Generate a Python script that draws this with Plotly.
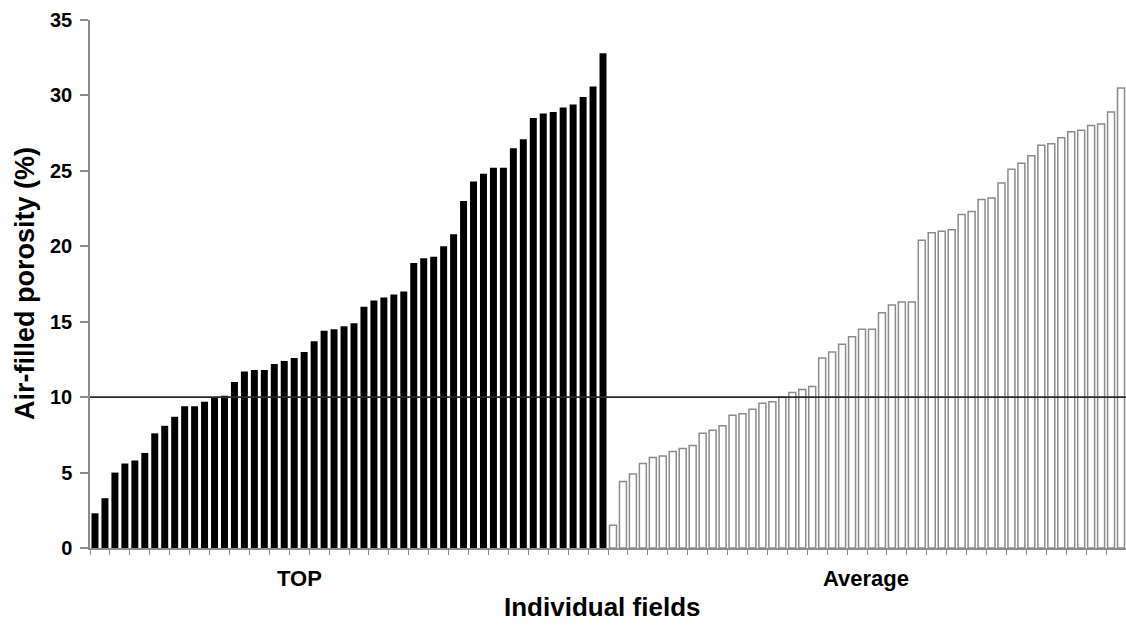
import plotly.graph_objects as go

# Data (air-filled porosity, %)
top_values = [2.3, 3.3, 5.0, 5.6, 5.8, 6.3, 7.6, 8.1, 8.7, 9.4, 9.4, 9.7, 10.0, 10.1,
              11.0, 11.7, 11.8, 11.8, 12.2, 12.4, 12.6, 13.0, 13.7, 14.4, 14.5, 14.7,
              14.9, 16.0, 16.4, 16.6, 16.8, 17.0, 18.9, 19.2, 19.3, 20.0, 20.8, 23.0,
              24.3, 24.8, 25.2, 25.2, 26.5, 27.1, 28.5, 28.8, 28.9, 29.2, 29.4, 29.9,
              30.6, 32.8]
avg_values = [1.5, 4.4, 4.9, 5.6, 6.0, 6.1, 6.4, 6.6, 6.8, 7.6, 7.8, 8.1, 8.8, 8.9,
              9.2, 9.6, 9.7, 10.0, 10.3, 10.5, 10.7, 12.6, 13.0, 13.5, 14.0, 14.5,
              14.5, 15.6, 16.1, 16.3, 16.3, 20.4, 20.9, 21.0, 21.1, 22.1, 22.3, 23.1,
              23.2, 24.2, 25.1, 25.5, 26.0, 26.7, 26.8, 27.2, 27.6, 27.7, 28.0, 28.1,
              28.9, 30.5]
top_categories = [f"TOP {i + 1}" for i in range(len(top_values))]
avg_categories = [f"Average {i + 1}" for i in range(len(avg_values))]
group_labels = ["TOP", "Average"]
threshold = 10
y_ticks = [0, 5, 10, 15, 20, 25, 30, 35]

FONT = "Liberation Sans, Arial, sans-serif"

fig = go.Figure()
fig.add_trace(go.Bar(
    x=top_categories, y=top_values, name=group_labels[0],
    marker=dict(color="#000000", line=dict(color="#000000", width=0)),
    width=0.7,
))
fig.add_trace(go.Bar(
    x=avg_categories, y=avg_values, name=group_labels[1],
    marker=dict(color="#ffffff", line=dict(color="#8c8c8c", width=1.5)),
    width=0.7,
))

fig.add_shape(type="line", xref="paper", yref="y", x0=0, x1=1, y0=threshold, y1=threshold,
              line=dict(color="#2a2a2a", width=1.8), layer="above")

fig.update_layout(
    width=1126, height=625,
    margin=dict(l=90, r=0, t=20, b=77),
    paper_bgcolor="white", plot_bgcolor="white",
    barmode="overlay",
    showlegend=False,
    font=dict(family=FONT, color="#000000"),
)
fig.update_xaxes(
    type="category",
    categoryorder="array", categoryarray=top_categories + avg_categories,
    showticklabels=False,
    ticks="outside", ticklen=5, tickcolor="#8c8c8c", tickwidth=1,
    tickson="boundaries",
    showline=True, linecolor="#8c8c8c", linewidth=1.5,
    showgrid=False, zeroline=False,
)
fig.update_yaxes(
    range=[0, 35], tickvals=y_ticks,
    ticks="outside", ticklen=8, tickcolor="#8c8c8c", tickwidth=1.5,
    ticklabelstandoff=4,
    showline=True, linecolor="#8c8c8c", linewidth=1.5,
    showgrid=False, zeroline=False,
    tickfont=dict(family=FONT, size=20, color="#000000", weight="bold"),
)

fig.add_annotation(text=group_labels[0], xref="paper", yref="paper", x=0.2027, y=-0.057,
                   showarrow=False, xanchor="center", yanchor="middle",
                   font=dict(family=FONT, size=22, color="#000000", weight="bold"))
fig.add_annotation(text=group_labels[1], xref="paper", yref="paper", x=0.749, y=-0.057,
                   showarrow=False, xanchor="center", yanchor="middle",
                   font=dict(family=FONT, size=22, color="#000000", weight="bold"))
fig.add_annotation(text="Individual fields", xref="paper", yref="paper", x=0.494, y=-0.112,
                   showarrow=False, xanchor="center", yanchor="middle",
                   font=dict(family=FONT, size=26, color="#000000", weight="bold"))
fig.add_annotation(text="Air-filled porosity (%)", xref="paper", yref="paper", x=-0.0627, y=0.5,
                   textangle=-90, showarrow=False, xanchor="center", yanchor="middle",
                   font=dict(family=FONT, size=27, color="#000000", weight="bold"))

# remove the default page margin so the 1126x625 figure fills the window exactly
fig.write_html(
    "out.html",
    config={"displayModeBar": False},
    post_script="document.body.style.margin='0';document.body.style.overflow='hidden';",
)
